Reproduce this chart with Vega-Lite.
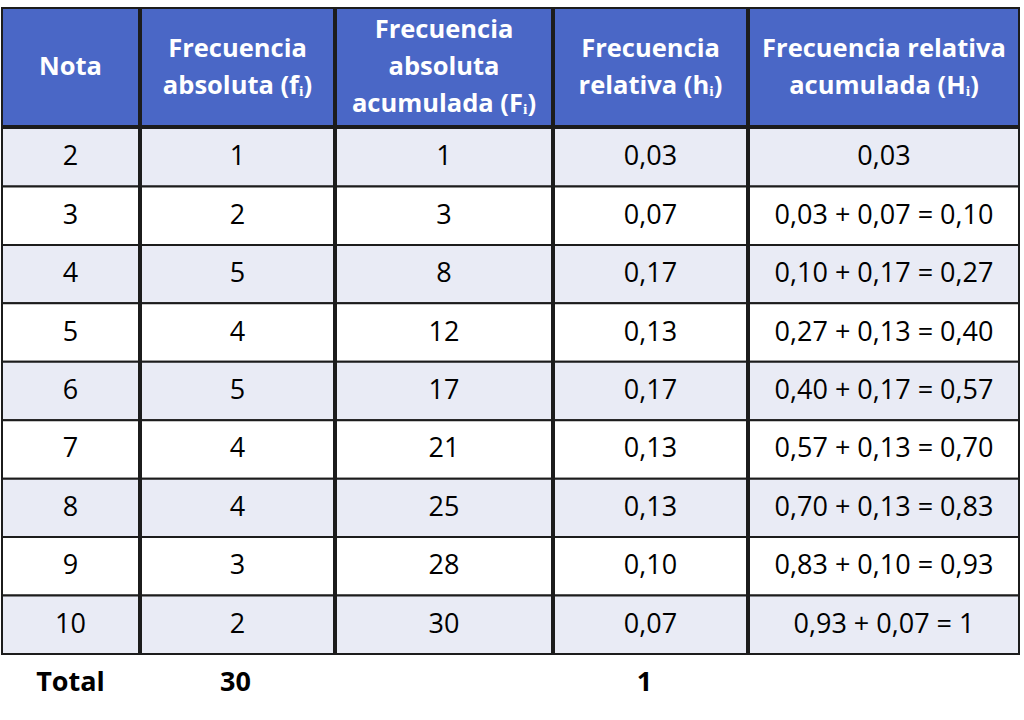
{
  "$schema": "https://vega.github.io/schema/vega-lite/v6.json",
  "padding": {"left": 1, "top": 7, "right": 0, "bottom": 0},
  "background": "white",
  "datasets": {
    "head": [{"nota": ["Nota"], "fa": ["Frecuencia", "absoluta (fᵢ)"], "faa": ["Frecuencia", "absoluta", "acumulada (Fᵢ)"], "fr": ["Frecuencia", "relativa (hᵢ)"], "fra": ["Frecuencia relativa", "acumulada (Hᵢ)"]}],
    "rows": [
      {"nota": 2, "fa": "1", "faa": "1", "fr": "0,03", "fra": "0,03"},
      {"nota": 3, "fa": "2", "faa": "3", "fr": "0,07", "fra": "0,03 + 0,07 = 0,10"},
      {"nota": 4, "fa": "5", "faa": "8", "fr": "0,17", "fra": "0,10 + 0,17 = 0,27"},
      {"nota": 5, "fa": "4", "faa": "12", "fr": "0,13", "fra": "0,27 + 0,13 = 0,40"},
      {"nota": 6, "fa": "5", "faa": "17", "fr": "0,17", "fra": "0,40 + 0,17 = 0,57"},
      {"nota": 7, "fa": "4", "faa": "21", "fr": "0,13", "fra": "0,57 + 0,13 = 0,70"},
      {"nota": 8, "fa": "4", "faa": "25", "fr": "0,13", "fra": "0,70 + 0,13 = 0,83"},
      {"nota": 9, "fa": "3", "faa": "28", "fr": "0,10", "fra": "0,83 + 0,10 = 0,93"},
      {"nota": 10, "fa": "2", "faa": "30", "fr": "0,07", "fra": "0,93 + 0,07 = 1"}
    ],
    "total": [{"nota": "Total", "fa": "30", "faa": "", "fr": "1", "fra": ""}]
  },
  "config": {
    "concat": {"spacing": 0},
    "view": {"stroke": null},
    "text": {"font": "Open Sans", "fontSize": 27, "baseline": "middle", "align": "center"}
  },
  "vconcat": [
    {
      "hconcat": [
        {"width": 137, "height": 118, "data": {"name": "head"}, "view": {"fill": "#4a67c6", "stroke": "#1c1c1c", "strokeWidth": 2}, "mark": {"type": "text", "color": "white", "fontWeight": "bold", "fontSize": 25.5, "lineHeight": 37}, "encoding": {"text": {"field": "nota"}}},
        {"width": 193, "height": 118, "data": {"name": "head"}, "view": {"fill": "#4a67c6", "stroke": "#1c1c1c", "strokeWidth": 2}, "mark": {"type": "text", "color": "white", "fontWeight": "bold", "fontSize": 25.5, "lineHeight": 37, "dy": -18}, "encoding": {"text": {"field": "fa"}}},
        {"width": 216, "height": 118, "data": {"name": "head"}, "view": {"fill": "#4a67c6", "stroke": "#1c1c1c", "strokeWidth": 2}, "mark": {"type": "text", "color": "white", "fontWeight": "bold", "fontSize": 25.5, "lineHeight": 37, "dy": -37}, "encoding": {"text": {"field": "faa"}}},
        {"width": 193, "height": 118, "data": {"name": "head"}, "view": {"fill": "#4a67c6", "stroke": "#1c1c1c", "strokeWidth": 2}, "mark": {"type": "text", "color": "white", "fontWeight": "bold", "fontSize": 25.5, "lineHeight": 37, "dy": -18}, "encoding": {"text": {"field": "fr"}}},
        {"width": 270, "height": 118, "data": {"name": "head"}, "view": {"fill": "#4a67c6", "stroke": "#1c1c1c", "strokeWidth": 2}, "mark": {"type": "text", "color": "white", "fontWeight": "bold", "fontSize": 25.5, "lineHeight": 37, "dy": -18}, "encoding": {"text": {"field": "fra"}}}
      ]
    },
    {
      "hconcat": [
        {"width": 137, "height": 526, "data": {"name": "rows"},
         "encoding": {"y": {"field": "nota", "type": "ordinal", "axis": null, "scale": {"paddingInner": 0, "paddingOuter": 0}}},
         "layer": [
           {"mark": {"type": "rect", "stroke": "#1c1c1c", "strokeWidth": 2}, "encoding": {"fill": {"condition": {"test": "datum.nota % 2 == 0", "value": "#e9ebf5"}, "value": "#ffffff"}}},
           {"mark": {"type": "text", "color": "black"}, "encoding": {"text": {"field": "nota"}}}
         ]},
        {"width": 193, "height": 526, "data": {"name": "rows"},
         "encoding": {"y": {"field": "nota", "type": "ordinal", "axis": null, "scale": {"paddingInner": 0, "paddingOuter": 0}}},
         "layer": [
           {"mark": {"type": "rect", "stroke": "#1c1c1c", "strokeWidth": 2}, "encoding": {"fill": {"condition": {"test": "datum.nota % 2 == 0", "value": "#e9ebf5"}, "value": "#ffffff"}}},
           {"mark": {"type": "text", "color": "black"}, "encoding": {"text": {"field": "fa"}}}
         ]},
        {"width": 216, "height": 526, "data": {"name": "rows"},
         "encoding": {"y": {"field": "nota", "type": "ordinal", "axis": null, "scale": {"paddingInner": 0, "paddingOuter": 0}}},
         "layer": [
           {"mark": {"type": "rect", "stroke": "#1c1c1c", "strokeWidth": 2}, "encoding": {"fill": {"condition": {"test": "datum.nota % 2 == 0", "value": "#e9ebf5"}, "value": "#ffffff"}}},
           {"mark": {"type": "text", "color": "black"}, "encoding": {"text": {"field": "faa"}}}
         ]},
        {"width": 193, "height": 526, "data": {"name": "rows"},
         "encoding": {"y": {"field": "nota", "type": "ordinal", "axis": null, "scale": {"paddingInner": 0, "paddingOuter": 0}}},
         "layer": [
           {"mark": {"type": "rect", "stroke": "#1c1c1c", "strokeWidth": 2}, "encoding": {"fill": {"condition": {"test": "datum.nota % 2 == 0", "value": "#e9ebf5"}, "value": "#ffffff"}}},
           {"mark": {"type": "text", "color": "black"}, "encoding": {"text": {"field": "fr"}}}
         ]},
        {"width": 270, "height": 526, "data": {"name": "rows"},
         "encoding": {"y": {"field": "nota", "type": "ordinal", "axis": null, "scale": {"paddingInner": 0, "paddingOuter": 0}}},
         "layer": [
           {"mark": {"type": "rect", "stroke": "#1c1c1c", "strokeWidth": 2}, "encoding": {"fill": {"condition": {"test": "datum.nota % 2 == 0", "value": "#e9ebf5"}, "value": "#ffffff"}}},
           {"mark": {"type": "text", "color": "black"}, "encoding": {"text": {"field": "fra"}}}
         ]}
      ]
    },
    {
      "hconcat": [
        {"width": 137, "height": 55, "data": {"name": "total"}, "mark": {"type": "text", "color": "black", "fontWeight": "bold"}, "encoding": {"text": {"field": "nota"}}},
        {"width": 193, "height": 55, "data": {"name": "total"}, "mark": {"type": "text", "color": "black", "fontWeight": "bold"}, "encoding": {"text": {"field": "fa"}}},
        {"width": 216, "height": 55, "data": {"name": "total"}, "mark": {"type": "text", "color": "black", "fontWeight": "bold"}, "encoding": {"text": {"field": "faa"}}},
        {"width": 193, "height": 55, "data": {"name": "total"}, "mark": {"type": "text", "color": "black", "fontWeight": "bold"}, "encoding": {"text": {"field": "fr"}}},
        {"width": 270, "height": 55, "data": {"name": "total"}, "mark": {"type": "text", "color": "black", "fontWeight": "bold"}, "encoding": {"text": {"field": "fra"}}}
      ]
    }
  ]
}
